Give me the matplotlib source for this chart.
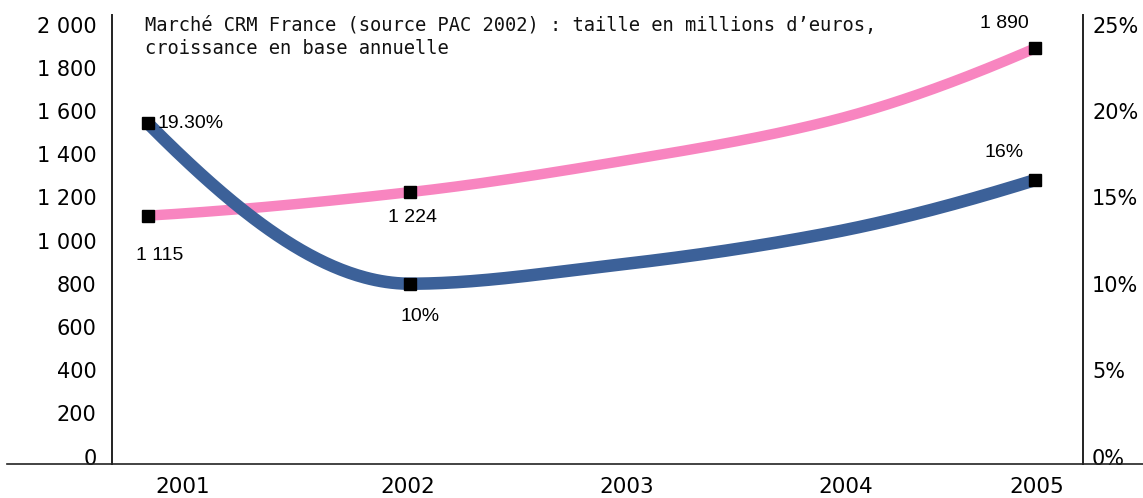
import numpy as np
import matplotlib
matplotlib.use("Agg")
import matplotlib.pyplot as plt
from matplotlib.lines import Line2D

# ---- data -------------------------------------------------------------
years = ["2001", "2002", "2003", "2004", "2005"]
market_size = [1115, 1224, 1365, 1550, 1890]     # millions d'euros
growth_pct = [19.3, 10.0, 11.1, 12.9, 16.0]      # croissance annuelle, %

labelled_years = ["2001", "2002", "2005"]
size_labels = ["1 115", "1 224", "1 890"]
growth_labels = ["19.30%", "10%", "16%"]

left_ticks = [0, 200, 400, 600, 800, 1000, 1200, 1400, 1600, 1800, 2000]
left_tick_labels = ["0", "200", "400", "600", "800", "1 000", "1 200",
                    "1 400", "1 600", "1 800", "2 000"]
right_ticks = [0, 5, 10, 15, 20, 25]
right_tick_labels = ["0%", "5%", "10%", "15%", "20%", "25%"]

title = ("Marché CRM France (source PAC 2002) : taille en millions d’euros,\n"
         "croissance en base annuelle")

# ---- layout -------------------------------------------------------------
W, H = 1143, 498
year_tick_pos = {"2001": 2000.91, "2002": 2001.99, "2003": 2003.04,
                 "2004": 2004.09, "2005": 2005.01}
year_point_pos = {"2001": 2000.74, "2002": 2002.0, "2003": 2003.0,
                  "2004": 2004.0, "2005": 2005.0}

PINK = "#F885C0"
BLUE = "#3C6199"
LABEL_FONT = ["Liberation Sans", "DejaVu Sans"]

fig = plt.figure(figsize=(W / 100, H / 100), dpi=100)
ax = fig.add_axes([112 / W, (H - 464) / H, (1083 - 112) / W, (464 - 15) / H])
ax2 = ax.twinx()
ax2.set_position(ax.get_position())

ax.set_xlim(2000.569, 2005.23)
ax.set_ylim(-34.7, 2044)
ax2.set_ylim(-34.7 / 80, 2044 / 80)

for a in (ax, ax2):
    for s in a.spines.values():
        s.set_visible(False)
ax.spines["left"].set_visible(True)
ax2.spines["right"].set_visible(True)
for s in (ax.spines["left"], ax2.spines["right"]):
    s.set_linewidth(1.4)
    s.set_color("#222222")

ax.set_yticks(left_ticks)
ax.set_yticklabels(left_tick_labels)
ax2.set_yticks(right_ticks)
ax2.set_yticklabels(right_tick_labels)
ax.set_xticks([year_tick_pos[y] for y in years])
ax.set_xticklabels(years)
ax.tick_params(axis="y", length=0, pad=11, labelsize=15)
ax.tick_params(axis="x", length=0, pad=9, labelsize=15.5)
ax2.tick_params(axis="y", length=0, pad=6.5, labelsize=15)

# horizontal base line spanning the figure
fig.add_artist(Line2D([7 / W, 1.0], [(H - 464) / H] * 2,
                      transform=fig.transFigure, color="#222222", lw=1.2))


def pchip_curve(xs, ys, n=100):
    """Shape-preserving cubic Hermite interpolation (Fritsch-Carlson)."""
    x = np.asarray(xs, float)
    y = np.asarray(ys, float)
    h = np.diff(x)
    d = np.diff(y) / h
    m = np.zeros_like(y)
    for k in range(1, len(x) - 1):
        if d[k - 1] * d[k] > 0:
            w1 = 2 * h[k] + h[k - 1]
            w2 = h[k] + 2 * h[k - 1]
            m[k] = (w1 + w2) / (w1 / d[k - 1] + w2 / d[k])

    def end_slope(h0, h1, d0, d1):
        s = ((2 * h0 + h1) * d0 - h0 * d1) / (h0 + h1)
        if np.sign(s) != np.sign(d0):
            return 0.0
        if np.sign(d0) != np.sign(d1) and abs(s) > 3 * abs(d0):
            return 3 * d0
        return s

    m[0] = end_slope(h[0], h[1], d[0], d[1])
    m[-1] = end_slope(h[-1], h[-2], d[-1], d[-2])

    out_x, out_y = [], []
    t = np.linspace(0, 1, n)
    for k in range(len(x) - 1):
        h00 = 2 * t**3 - 3 * t**2 + 1
        h10 = t**3 - 2 * t**2 + t
        h01 = -2 * t**3 + 3 * t**2
        h11 = t**3 - t**2
        yy = h00 * y[k] + h10 * h[k] * m[k] + h01 * y[k + 1] + h11 * h[k] * m[k + 1]
        xx = x[k] + t * h[k]
        if k:
            xx, yy = xx[1:], yy[1:]
        out_x.append(xx)
        out_y.append(yy)
    return np.concatenate(out_x), np.concatenate(out_y)


xs = [year_point_pos[y] for y in years]
idx = [years.index(y) for y in labelled_years]
mx = [xs[i] for i in idx]

px_, py_ = pchip_curve(xs, market_size)
ax.plot(px_, py_, color=PINK, lw=7.5, solid_capstyle="butt", zorder=2)
ax.plot(mx, [market_size[i] for i in idx], ls="none", marker="s", ms=8.8,
        color="black", zorder=4)

bx_, by_ = pchip_curve(xs, growth_pct)
ax2.plot(bx_, by_, color=BLUE, lw=9, solid_capstyle="butt", zorder=2)
ax2.plot(mx, [growth_pct[i] for i in idx], ls="none", marker="s", ms=8.8,
         color="black", zorder=4)

# value labels (offsets given in pixels, converted to points)
pt = 72 / 100
size_offsets = [(12.5, -40), (2, -25), (-31, 25)]
growth_offsets = [(10, 0), (10, -33), (-31.5, 27.5)]
growth_ha = ["left", "center", "center"]

for i, lab, (dx, dy) in zip(idx, size_labels, size_offsets):
    ax.annotate(lab, (xs[i], market_size[i]), xytext=(dx * pt, dy * pt),
                textcoords="offset points", ha="center", va="center",
                fontsize=14, family=LABEL_FONT, zorder=5)
for i, lab, (dx, dy), ha in zip(idx, growth_labels, growth_offsets,
                                growth_ha):
    ax2.annotate(lab, (xs[i], growth_pct[i]), xytext=(dx * pt, dy * pt),
                 textcoords="offset points", ha=ha, va="center",
                 fontsize=14, family=LABEL_FONT, zorder=5)

fig.text(145 / W, (H - 16) / H, title, ha="left", va="top", fontsize=13.5,
         family=["DejaVu Sans Mono"], linespacing=1.3, color="#111111")

fig.savefig("out.png", dpi=100)
